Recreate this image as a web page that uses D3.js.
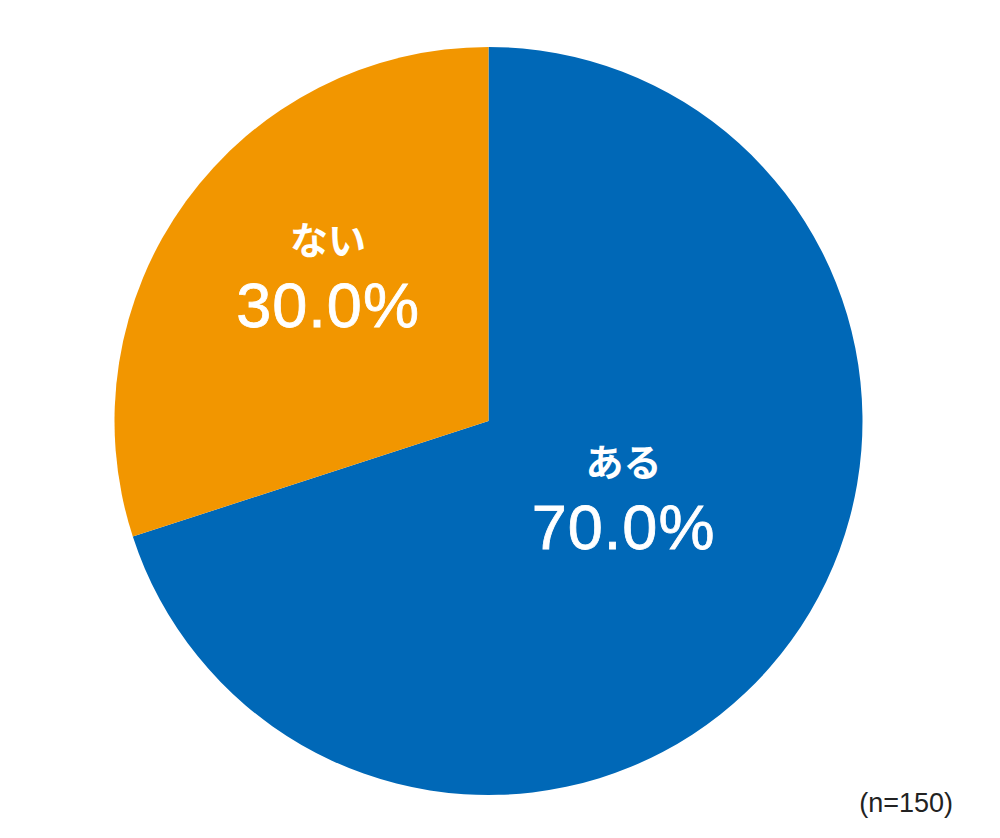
<!DOCTYPE html>
<html><head><meta charset="utf-8">
<script src="https://cdn.jsdelivr.net/npm/d3@7"></script>
<style>body{margin:0;background:#fff}svg{display:block}</style>
</head><body>
<script>
const categories = ["ある", "ない"];
const values = [70.0, 30.0];
const colors = ["#0068B7", "#F29600"];
const note = "(n=150)";

const W = 1000, H = 838;
const cx = 488.5, cy = 421, R = 374;
const labelR = [0.43, 0.55];
const labelShift = [[5, -6], [6, -12]];
const svg = d3.select("body").append("svg").attr("width", W).attr("height", H);
const g = svg.append("g").attr("transform", `translate(${cx},${cy})`);
const pie = d3.pie().sort(null).value(d => d.v);
const data = pie(categories.map((c, i) => ({c, v: values[i], col: colors[i]})));
const arc = d3.arc().innerRadius(0).outerRadius(R);
g.selectAll("path").data(data).join("path").attr("d", arc).attr("fill", d => d.data.col);

data.forEach((d, i) => {
  const r = R * labelR[i];
  const [x, y] = d3.arc().innerRadius(r).outerRadius(r).centroid(d);
  const t = g.append("g").attr("transform", `translate(${x + labelShift[i][0]},${y + labelShift[i][1]})`);
  t.append("text").attr("text-anchor", "middle").attr("y", -34)
    .attr("font-family", "'Noto Sans CJK JP', sans-serif").attr("font-weight", "bold")
    .attr("font-size", 38).attr("fill", "#fff").text(d.data.c);
  t.append("text").attr("text-anchor", "middle").attr("y", 39)
    .attr("font-family", "'Liberation Sans', Arial, sans-serif")
    .attr("font-size", 63).attr("letter-spacing", 1)
    .attr("stroke", "#fff").attr("stroke-width", 0.8)
    .attr("fill", "#fff").text(d3.format(".1f")(d.data.v) + "%");
});

svg.append("text").attr("x", 953).attr("y", 812).attr("text-anchor", "end")
  .attr("font-family", "'Liberation Sans', Arial, sans-serif").attr("font-size", 27)
  .attr("fill", "#222").text(note);
</script>
</body></html>
